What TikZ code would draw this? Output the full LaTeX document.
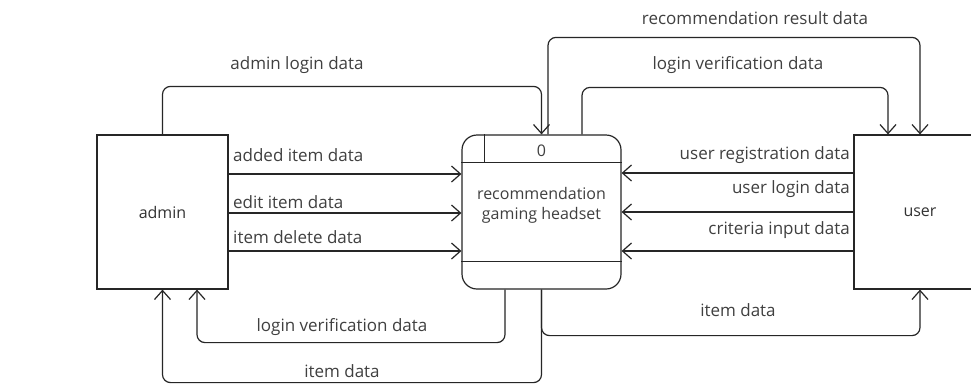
\documentclass[tikz,border=0pt]{standalone}
\usepackage{fontspec}
\setmainfont{Open Sans}
\usetikzlibrary{arrows.meta,positioning,calc}
\tikzset{>={Straight Barb[length=9pt,width=16pt]}}
\tikzset{
  entity/.style={draw=black!85, line width=1.2pt, minimum width=131pt, minimum height=154pt,
    inner sep=0pt, text=black!80, font=\fontsize{16}{20}\selectfont},
  flow/.style={->, draw=black!85, line width=1.2pt, rounded corners=8pt},
  lbl/.style={text=black!75, inner sep=0pt, font=\fontsize{17}{20}\selectfont}
}

\begin{document}
\begin{tikzpicture}[x=1pt,y=-1pt]

  \useasboundingbox (0,0) rectangle (971,384);
  \fill[white] (0,0) rectangle (971,384);

  % entities and process
  \node[entity] (admin) at (162.5,212) {admin};
  \node[entity, minimum width=159pt, rounded corners=15pt] (proc) at (541.5,212) {};
  \node[entity, minimum width=132pt] (user) at (920,212) {user};

  \draw[draw=black!85, line width=1.2pt] ($(proc.north west)+(0,28)$) -- ($(proc.north east)+(0,28)$);
  \draw[draw=black!85, line width=1.2pt] ($(proc.south west)+(0,-28)$) -- ($(proc.south east)+(0,-28)$);
  \draw[draw=black!85, line width=1.2pt] ($(proc.north west)+(23,0)$) -- ($(proc.north west)+(23,28)$);
  \node[lbl, font=\fontsize{16}{20}\selectfont] (procid) at (541.5,151) {0};
  \node[lbl, align=center, font=\fontsize{16}{20}\selectfont] (procname) at (541.5,205)
    {recommendation\\gaming headset};

  % admin -> process
  \draw[flow] ([yshift=38pt]admin.east) -- ([yshift=38pt]proc.west);
  \draw[flow] ([yshift=-1pt]admin.east) -- ([yshift=-1pt]proc.west);
  \draw[flow] ([yshift=-39pt]admin.east) -- ([yshift=-39pt]proc.west);
  \node[lbl, anchor=west] (lAdded) at (233,155) {added item data};
  \node[lbl, anchor=west] (lEdit) at (233,202) {edit item data};
  \node[lbl, anchor=west] (lDelete) at (233,237) {item delete data};

  % user -> process
  \draw[flow] ([yshift=39pt]user.west) -- ([yshift=39pt]proc.east);
  \draw[flow] (user.west) -- (proc.east);
  \draw[flow] ([yshift=-39pt]user.west) -- ([yshift=-39pt]proc.east);
  \node[lbl, anchor=east] (lRegister) at (850,155) {user registration data};
  \node[lbl, anchor=east] (lUserLogin) at (850,189) {user login data};
  \node[lbl, anchor=east] (lCriteria) at (850,230) {criteria input data};

  % top loops
  \draw[flow] (admin.north) |- ($(proc.north)+(0,-48)$) -- (proc.north);
  \draw[flow] ($(proc.north)+(6.5,0)$) |- ($(user.north)+(0,-97)$) -- (user.north);
  \draw[flow] ($(proc.north)+(40.5,0)$) |- ($(user.north)+(-32,-47)$) -- ($(user.north)+(-32,0)$);
  \node[lbl] (lAdminLogin) at (297,65) {admin login data};
  \node[lbl] (lResult) at (755,18) {recommendation result data};
  \node[lbl] (lVerifyUser) at (738,65) {login verification data};

  % bottom loops
  \draw[flow] ($(proc.south)+(-36.5,0)$) |- ($(admin.south)+(34.5,53)$) -- ($(admin.south)+(34.5,0)$);
  \draw[flow] (proc.south) |- ($(admin.south)+(0,93)$) -- (admin.south);
  \draw[flow] (proc.south) |- ($(user.south)+(0,46)$) -- (user.south);
  \node[lbl] (lVerifyAdmin) at (342,327) {login verification data};
  \node[lbl] (lItemAdmin) at (342,371) {item data};
  \node[lbl] (lItemUser) at (738,310) {item data};

\end{tikzpicture}
\end{document}
